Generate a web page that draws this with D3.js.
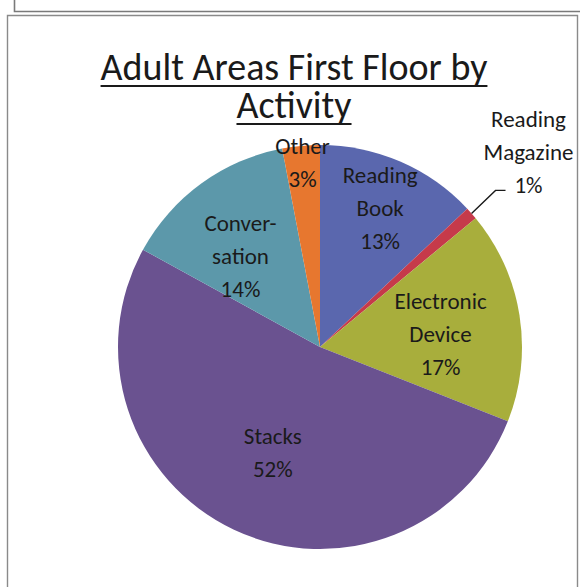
<!DOCTYPE html>
<html>
<head>
<meta charset="utf-8">
<script src="https://cdn.jsdelivr.net/npm/d3@7/dist/d3.min.js"></script>
<style>
  html, body { margin: 0; padding: 0; background: #fff; }
  svg { display: block; }
  text { font-family: Carlito, Lato, "Open Sans", sans-serif; fill: #1a1a1a; }
</style>
</head>
<body>
<svg id="chart" width="580" height="587"></svg>
<script>
// Share of observed activity in the adult areas, first floor
const categories = ["Reading Book", "Reading Magazine", "Electronic Device", "Stacks", "Conversation", "Other"];
const percents   = [13, 1, 17, 52, 14, 3];
const labelLines = [["Reading", "Book"], ["Reading", "Magazine"], ["Electronic", "Device"], ["Stacks"], ["Conver-", "sation"], ["Other"]];
const colors     = ["#5a67ae", "#c63a4a", "#a8ae3c", "#6a5290", "#5c98aa", "#e7772f"];
const titleLines = ["Adult Areas First Floor by", "Activity"];

const svg = d3.select("#chart");

// frames: the bottom of the box above, and the chart's own border
svg.append("path")
  .attr("d", "M14.5,0 V11.5 H580")
  .attr("fill", "none").attr("stroke", "#7a7a7a").attr("stroke-width", 1.6);
svg.append("path")
  .attr("d", "M7.5,587 V15.5 H577.5 V587")
  .attr("fill", "none").attr("stroke", "#8a8a8a").attr("stroke-width", 1.4);

// title: one text block of two centred lines, each underlined
const titleX = 294, titleY = 80, titleLH = 38;
const titleText = svg.append("text")
  .attr("text-anchor", "middle")
  .attr("font-size", 38);
const spans = titleLines.map((t, i) =>
  titleText.append("tspan")
    .attr("x", titleX).attr("y", titleY + i * titleLH)
    .text(t));
spans.forEach((s, i) => {
  const w = s.node().getComputedTextLength();
  const y = titleY + i * titleLH + 6;
  svg.append("line")
    .attr("x1", titleX - w / 2).attr("x2", titleX + w / 2)
    .attr("y1", y).attr("y2", y)
    .attr("stroke", "#1a1a1a").attr("stroke-width", 1.8);
});

// pie
const cx = 320, cy = 347, R = 202;
const data = categories.map((c, i) => ({ name: c, value: percents[i], lines: labelLines[i], color: colors[i] }));
const pie = d3.pie().value(d => d.value).sort(null);
const arcs = pie(data);
const arc = d3.arc().innerRadius(0).outerRadius(R);

const g = svg.append("g").attr("transform", `translate(${cx},${cy})`);
g.selectAll("path.slice").data(arcs).join("path")
  .attr("class", "slice")
  .attr("d", arc)
  .attr("fill", d => d.data.color);

// data labels: [distance as a fraction of the radius, angle shift in degrees]
const labelPlace = {
  "Reading Book": [0.75, 0],
  "Electronic Device": [0.6, 3],
  "Stacks": [0.57, -1],
  "Conversation": [0.6, -5],
  "Other": [0.92, 0]
};
const lineH = 33, fs = 23;

arcs.forEach(a => {
  const lines = a.data.lines.concat([a.data.value + "%"]);
  const mid = (a.startAngle + a.endAngle) / 2;
  let x, y;
  const place = labelPlace[a.data.name];
  if (place) {
    const ang = mid + place[1] * Math.PI / 180;
    const r = R * place[0];
    x = r * Math.sin(ang);
    y = -r * Math.cos(ang);
  } else {
    // small slice: label sits outside with a leader line
    const p0 = [R * Math.sin(mid), -R * Math.cos(mid)];
    const p1 = [p0[0] + 24, p0[1] - 23];
    const p2 = [p1[0] + 10, p1[1]];
    g.append("polyline")
      .attr("points", [p0, p1, p2].map(p => p.join(",")).join(" "))
      .attr("fill", "none").attr("stroke", "#1a1a1a").attr("stroke-width", 1.4);
    x = p2[0] + 23;
    y = p2[1] - 38;
  }
  const t = g.append("text").attr("text-anchor", "middle").attr("font-size", fs);
  lines.forEach((ln, i) => {
    t.append("tspan")
      .attr("x", x)
      .attr("y", y + (i - (lines.length - 1) / 2) * lineH + fs * 0.35)
      .text(ln);
  });
});
</script>
</body>
</html>
